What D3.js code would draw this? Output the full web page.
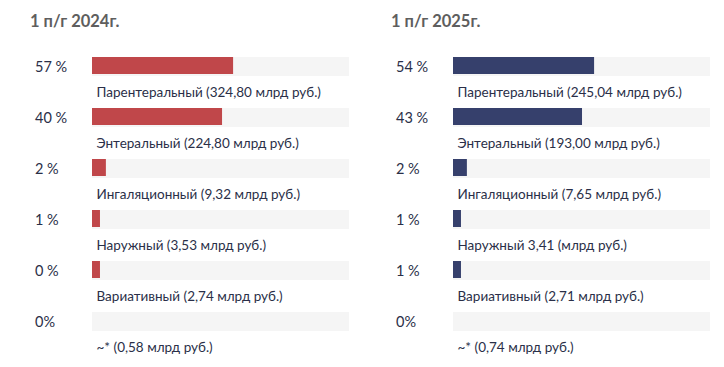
<!DOCTYPE html>
<html><head><meta charset="utf-8">
<script src="https://cdn.jsdelivr.net/npm/d3@7"></script>
<style>body{margin:0;background:#fff}svg{display:block}</style>
</head><body>
<svg id="c" width="724" height="367"></svg>
<script>
const titles = ["1 п/г 2024г.", "1 п/г 2025г."];
const labels2024 = ["Парентеральный (324,80 млрд руб.)", "Энтеральный (224,80 млрд руб.)", "Ингаляционный (9,32 млрд руб.)", "Наружный (3,53 млрд руб.)", "Вариативный (2,74 млрд руб.)", "~* (0,58 млрд руб.)"];
const labels2025 = ["Парентеральный (245,04 млрд руб.)", "Энтеральный (193,00 млрд руб.)", "Ингаляционный (7,65 млрд руб.)", "Наружный 3,41 (млрд руб.)", "Вариативный (2,71 млрд руб.)", "~* (0,74 млрд руб.)"];
const pct2024 = ["57 %", "40 %", "2 %", "1 %", "0 %", "0%"];
const pct2025 = ["54 %", "43 %", "2 %", "1 %", "1 %", "0%"];
// bar length as share of the track (0–100)
const bar2024 = [54.9, 50.6, 5.4, 3.1, 3.1, 0];
const bar2025 = [54.9, 50.2, 5.4, 3.1, 3.1, 0];
const colors = ["#c0474a", "#36406c"];

const svg = d3.select("#c");
const panels = [
  {title: titles[0], labels: labels2024, pct: pct2024, bars: bar2024, color: colors[0], x0: 0},
  {title: titles[1], labels: labels2025, pct: pct2025, bars: bar2025, color: colors[1], x0: 362}
];
const trackW = 257, trackH = 19, barH = 17;
const y = d3.scaleBand().domain(d3.range(6)).range([57, 363]).paddingInner(0).paddingOuter(0);
const x = d3.scaleLinear().domain([0, 100]).range([0, trackW]);

panels.forEach((p, pi) => {
  const g = svg.append("g").attr("transform", `translate(${p.x0 + (pi ? -1 : 0)},0)`);
  g.append("text").attr("x", 30).attr("y", 27)
    .attr("font-family", "Lato, 'Open Sans', sans-serif").attr("font-weight", 700)
    .attr("font-size", 16.5).attr("fill", "#5e5e5e").text(p.title);
  const rows = g.selectAll("g.row").data(d3.range(6)).join("g").attr("class", "row")
    .attr("transform", i => `translate(0,${y(i)})`);
  rows.append("rect").attr("x", 92).attr("y", 0).attr("width", x(100)).attr("height", trackH).attr("fill", "#f5f5f5");
  rows.append("rect").attr("x", 92).attr("y", 0).attr("width", i => x(p.bars[i])).attr("height", barH).attr("fill", p.color);
  rows.append("text").attr("x", 35).attr("y", 9.5).attr("dy", "0.35em")
    .attr("font-family", "Lato, 'Open Sans', sans-serif").attr("font-size", 14.5).attr("fill", "#2a2f48")
    .text(i => p.pct[i]);
  rows.append("text").attr("x", 96.5).attr("y", 35.5).attr("dy", "0.35em")
    .attr("font-family", "Lato, 'Open Sans', sans-serif").attr("font-size", 13.5).attr("fill", "#2a2f48")
    .text(i => p.labels[i]);
});
</script>
</body></html>
